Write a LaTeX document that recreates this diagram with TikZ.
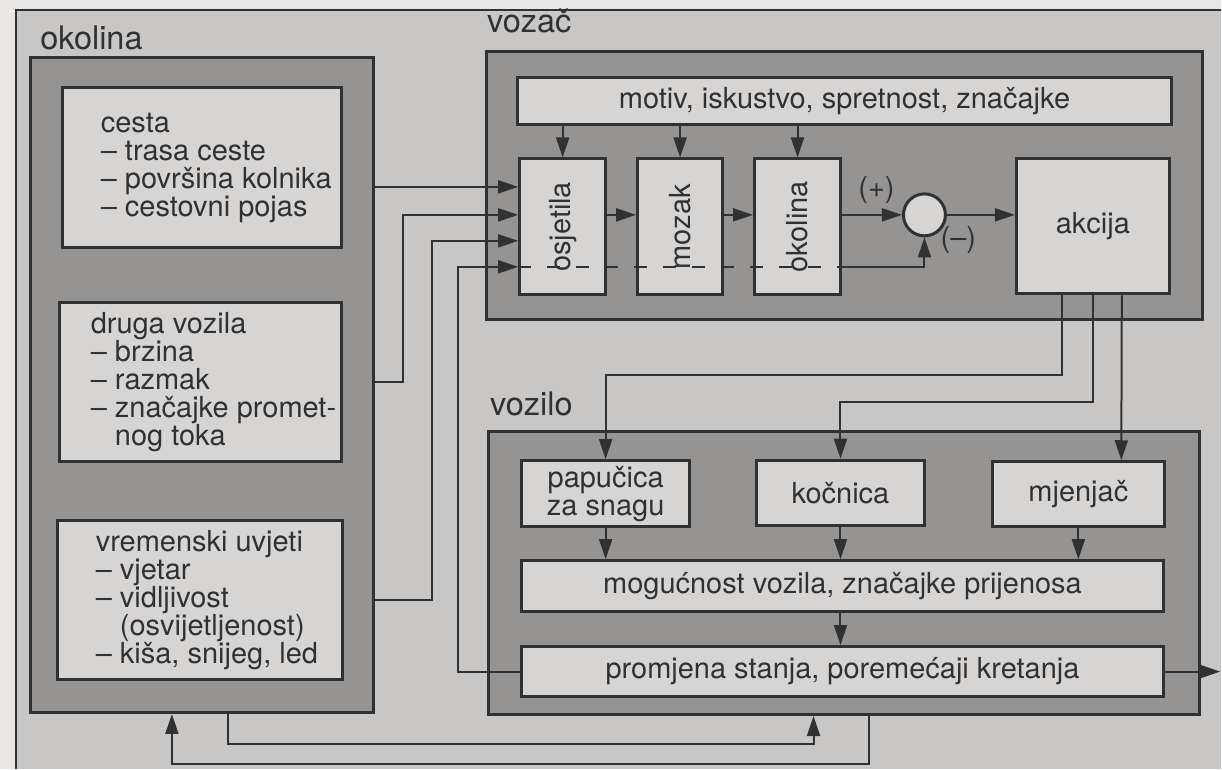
\documentclass[tikz,border=0pt]{standalone}
\usepackage{fontspec}
\setmainfont{TeX Gyre Heros}
\usepackage{graphicx}
\usepackage{tikz}
\usetikzlibrary{positioning,
        arrows.meta,
        calc}
\definecolor{ink}{RGB}{50,49,49}
\definecolor{paper}{RGB}{201,199,197}
\definecolor{paperlight}{RGB}{232,231,229}
\definecolor{outerfill}{RGB}{150,148,146}
\definecolor{innerfill}{RGB}{215,213,211}

\begin{document}
\begin{tikzpicture}[x=0.02cm, y=-0.02cm,
        font=\fontsize{16.5}{16}\selectfont,
        outerbox/.style={draw=ink, line width=0.06cm, fill=outerfill},
        innerbox/.style={draw=ink, line width=0.06cm, fill=innerfill, text=ink, inner sep=0pt, align=center},
        txt/.style={text=ink, inner sep=0pt, align=left},
        grouplabel/.style={text=ink, anchor=base west, inner sep=0pt, font=\fontsize{18.5}{18}\selectfont},
        wire/.style={draw=ink, line width=0.04cm},
        arr/.style={wire, -{Triangle[length=0.4cm,width=0.26cm]}}]
            % page
            \fill[paperlight] (0,0) rectangle (1222,769);
            \fill[paper] (16,10) rectangle (1222,769);
            \draw[ink, line width=0.03cm] (16,769) -- (16,10) -- (1222,10);
            \useasboundingbox (0,0) rectangle (1222,769);

            % okolina
            \node [grouplabel] (tOkolina) at (40,50) {okolina};
            \node [outerbox, minimum width=6.88cm, minimum height=13.12cm] (okolinaBox) at (202,385) {};
            \node [innerbox, minimum width=5.58cm, minimum height=3.2cm] (cesta) at (202.5,168) {};
            \node [innerbox, minimum width=5.64cm, minimum height=3.18cm] (druga) at (201,382.5) {};
            \node [innerbox, minimum width=5.7cm, minimum height=3.18cm] (vremenski) at (200.5,600.5) {};
            \node [txt, anchor=west] (cestaTxt) at ([xshift=0.78cm]cesta.west)
                {cesta\\– trasa ceste\\– površina kolnika\\– cestovni pojas};
            \node [txt, anchor=west] (drugaTxt) at ([xshift=0.64cm]druga.west)
                {druga vozila\\– brzina\\– razmak\\– značajke promet-\\\phantom{– }nog toka};
            \node [txt, anchor=west] (vremenskiTxt) at ([xshift=0.78cm]vremenski.west)
                {vremenski uvjeti\\– vjetar\\– vidljivost\\\phantom{– }(osvijetljenost)\\– kiša, snijeg, led};

            % vozac
            \node [grouplabel] (tVozac) at (487,33) {vozač};
            \node [outerbox, minimum width=14.32cm, minimum height=5.36cm] (vozacBox) at (845,186) {};
            \node [innerbox, minimum width=13.08cm, minimum height=0.94cm] (motiv) at (845,101.5) {motiv, iskustvo, spretnost, značajke};
            \node [innerbox, minimum width=1.72cm, minimum height=2.72cm] (osjetila) at (563,227) {\rotatebox{90}{osjetila}};
            \node [innerbox, minimum width=1.7cm, minimum height=2.72cm] (mozak) at (680.5,227) {\rotatebox{90}{mozak}};
            \node [innerbox, minimum width=1.72cm, minimum height=2.72cm] (okolinaV) at (798,227) {\rotatebox{90}{okolina}};
            \node [innerbox, minimum width=3.06cm, minimum height=2.7cm] (akcija) at (1093.5,226.5) {akcija};
            \node [innerbox, circle, minimum size=0.84cm] (sum) at (925,215) {};
            \node [txt] (plus) at (877,190) {(+)};
            \node [txt] (minus) at (959,240) {(–)};

            % vozilo
            \node [grouplabel] (tVozilo) at (490,416) {vozilo};
            \node [outerbox, minimum width=14.22cm, minimum height=5.66cm] (voziloBox) at (844.5,573.5) {};
            \node [innerbox, minimum width=3.36cm, minimum height=1.32cm] (papucica) at (606,494) {papučica\\za snagu};
            \node [innerbox, minimum width=3.36cm, minimum height=1.3cm] (kocnica) at (841,493) {kočnica};
            \node [innerbox, minimum width=3.44cm, minimum height=1.3cm] (mjenjac) at (1079,494.5) {mjenjač};
            \node [innerbox, minimum width=12.84cm, minimum height=1.02cm] (mogucnost) at (843,586.5) {mogućnost vozila, značajke prijenosa};
            \node [innerbox, minimum width=12.84cm, minimum height=1.0cm] (promjena) at (843,672) {promjena stanja, poremećaji kretanja};

            % inputs of osjetila
            \coordinate (in1) at ([yshift=0.8cm]osjetila.west);
            \coordinate (in2) at ([yshift=0.24cm]osjetila.west);
            \coordinate (in3) at ([yshift=-0.28cm]osjetila.west);
            \coordinate (in4) at ([yshift=-0.8cm]osjetila.west);
            \draw [arr] (okolinaBox.east |- in1) -- (in1);
            \draw [arr] (okolinaBox.east |- druga.east) -- ++(28,0) |- (in2);
            \draw [arr] (okolinaBox.east |- vremenski.east) -- ++(57,0) |- (in3);
            \draw [arr] (promjena.west) -- ++(-62,0) |- (in4);
            \draw [wire, dash pattern=on 0.26cm off 0.32cm] (in4) -- (okolinaV.east |- in4);
            \draw [arr] (okolinaV.east |- in4) -| (sum.south);

            % driver chain
            \draw [arr] (motiv.south -| osjetila) -- (osjetila.north);
            \draw [arr] (motiv.south -| mozak) -- (mozak.north);
            \draw [arr] (motiv.south -| okolinaV) -- (okolinaV.north);
            \draw [arr] (osjetila.east |- sum) -- (mozak.west |- sum);
            \draw [arr] (mozak.east |- sum) -- (okolinaV.west |- sum);
            \draw [arr] (okolinaV.east |- sum) -- (sum.west);
            \draw [arr] (sum.east) -- (akcija.west |- sum);

            % akcija to vozilo
            \draw [arr] ([xshift=-0.61cm]akcija.south) -- ++(0,80) -| (papucica.north);
            \draw [arr] (akcija.south) -- ++(0,107) -| (kocnica.north);
            \draw [arr] ([xshift=0.58cm]akcija.south) -- ([xshift=0.86cm]mjenjac.north);

            % inside vozilo
            \draw [arr] (papucica.south) -- (papucica.south |- mogucnost.north);
            \draw [arr] (kocnica.south) -- (kocnica.south |- mogucnost.north);
            \draw [arr] (mjenjac.south) -- (mjenjac.south |- mogucnost.north);
            \draw [arr] (mogucnost.south -| kocnica) -- (promjena.north -| kocnica);
            \coordinate (exit) at (1221,672);
            \draw [arr] (promjena.east) -- (exit);

            % bottom loop
            \draw [arr] ([xshift=0.52cm]okolinaBox.south) -- ++(0,30) -| ([xshift=-0.61cm]voziloBox.south);
            \draw [arr] ([xshift=0.51cm]voziloBox.south) -- ++(0,48) -| ([xshift=-0.6cm]okolinaBox.south);
        \end{tikzpicture}
\end{document}
